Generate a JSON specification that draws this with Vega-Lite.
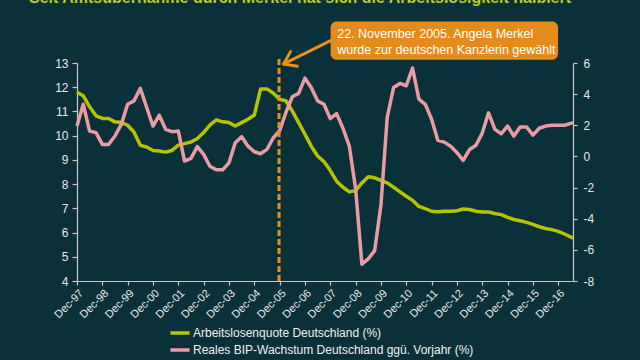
{
  "$schema": "https://vega.github.io/schema/vega-lite/v6.json",
  "width": 496,
  "height": 218,
  "autosize": {"type": "none"},
  "padding": {"left": 77, "top": 63, "right": 67, "bottom": 79},
  "background": "#0a313a",
  "title": {
    "text": "Seit Amtsübernahme durch Merkel hat sich die Arbeitslosigkeit halbiert",
    "anchor": "start", "frame": "group", "dx": -48, "offset": 3,
    "fontSize": 16, "fontWeight": "bold", "color": "#bccb1e",
    "font": "Liberation Sans", "baseline": "alphabetic"
  },
  "config": {
    "view": {"stroke": null},
    "axis": {
      "grid": false, "domainColor": "#c8c8c8", "tickColor": "#c8c8c8",
      "labelColor": "#e8e8e8", "labelFont": "Liberation Sans", "labelFontSize": 12,
      "domainWidth": 1.2, "tickWidth": 1.2, "tickSize": 5, "title": null
    },
    "legend": {
      "orient": "none", "legendX": 93, "legendY": 260, "direction": "vertical",
      "symbolType": "M-1.2,0H1.2", "symbolStrokeWidth": 3.5, "symbolSize": 256,
      "labelFont": "Liberation Sans", "labelFontSize": 12, "labelColor": "#f0f0f0",
      "labelLimit": 500, "labelOffset": 3, "rowPadding": 0, "title": null
    }
  },
  "datasets": {
    "s": [
      {"d": "1997/12/01", "a": 11.79, "b": 1.95},
      {"d": "1998/03/01", "a": 11.65, "b": 3.35},
      {"d": "1998/06/01", "a": 11.19, "b": 1.63},
      {"d": "1998/09/01", "a": 10.82, "b": 1.53},
      {"d": "1998/12/01", "a": 10.71, "b": 0.77},
      {"d": "1999/03/01", "a": 10.71, "b": 0.77},
      {"d": "1999/06/01", "a": 10.57, "b": 1.31},
      {"d": "1999/09/01", "a": 10.54, "b": 2.06},
      {"d": "1999/12/01", "a": 10.43, "b": 3.35},
      {"d": "2000/03/01", "a": 10.15, "b": 3.57},
      {"d": "2000/06/01", "a": 9.60, "b": 4.37},
      {"d": "2000/09/01", "a": 9.53, "b": 3.14},
      {"d": "2000/12/01", "a": 9.39, "b": 1.95},
      {"d": "2001/03/01", "a": 9.37, "b": 2.65},
      {"d": "2001/06/01", "a": 9.32, "b": 1.74},
      {"d": "2001/09/01", "a": 9.39, "b": 1.59},
      {"d": "2001/12/01", "a": 9.61, "b": 1.63},
      {"d": "2002/03/01", "a": 9.67, "b": -0.30},
      {"d": "2002/06/01", "a": 9.74, "b": -0.13},
      {"d": "2002/09/01", "a": 9.88, "b": 0.63},
      {"d": "2002/12/01", "a": 10.13, "b": 0.13},
      {"d": "2003/03/01", "a": 10.44, "b": -0.63},
      {"d": "2003/06/01", "a": 10.65, "b": -0.86},
      {"d": "2003/09/01", "a": 10.57, "b": -0.86},
      {"d": "2003/12/01", "a": 10.54, "b": -0.41},
      {"d": "2004/03/01", "a": 10.40, "b": 0.88},
      {"d": "2004/06/01", "a": 10.54, "b": 1.27},
      {"d": "2004/09/01", "a": 10.68, "b": 0.66},
      {"d": "2004/12/01", "a": 10.85, "b": 0.30},
      {"d": "2005/03/01", "a": 11.93, "b": 0.17},
      {"d": "2005/06/01", "a": 11.93, "b": 0.45},
      {"d": "2005/09/01", "a": 11.75, "b": 1.20},
      {"d": "2005/12/01", "a": 11.50, "b": 1.65},
      {"d": "2006/03/01", "a": 11.44, "b": 2.82},
      {"d": "2006/06/01", "a": 11.02, "b": 3.83},
      {"d": "2006/09/01", "a": 10.54, "b": 4.05},
      {"d": "2006/12/01", "a": 10.06, "b": 5.03},
      {"d": "2007/03/01", "a": 9.57, "b": 4.43},
      {"d": "2007/06/01", "a": 9.16, "b": 3.57},
      {"d": "2007/09/01", "a": 8.93, "b": 3.35},
      {"d": "2007/12/01", "a": 8.56, "b": 2.43},
      {"d": "2008/03/01", "a": 8.12, "b": 2.75},
      {"d": "2008/06/01", "a": 7.87, "b": 1.81},
      {"d": "2008/09/01", "a": 7.68, "b": 0.66},
      {"d": "2008/12/01", "a": 7.73, "b": -2.10},
      {"d": "2009/03/01", "a": 8.05, "b": -6.92},
      {"d": "2009/06/01", "a": 8.30, "b": -6.58},
      {"d": "2009/09/01", "a": 8.26, "b": -6.05},
      {"d": "2009/12/01", "a": 8.15, "b": -3.10},
      {"d": "2010/03/01", "a": 8.05, "b": 2.50},
      {"d": "2010/06/01", "a": 7.87, "b": 4.43},
      {"d": "2010/09/01", "a": 7.68, "b": 4.69},
      {"d": "2010/12/01", "a": 7.50, "b": 4.54},
      {"d": "2011/03/01", "a": 7.33, "b": 5.68},
      {"d": "2011/06/01", "a": 7.08, "b": 3.68},
      {"d": "2011/09/01", "a": 6.99, "b": 3.35},
      {"d": "2011/12/01", "a": 6.88, "b": 2.39},
      {"d": "2012/03/01", "a": 6.86, "b": 1.03},
      {"d": "2012/06/01", "a": 6.88, "b": 0.92},
      {"d": "2012/09/01", "a": 6.88, "b": 0.66},
      {"d": "2012/12/01", "a": 6.90, "b": 0.24},
      {"d": "2013/03/01", "a": 6.97, "b": -0.26},
      {"d": "2013/06/01", "a": 6.95, "b": 0.45},
      {"d": "2013/09/01", "a": 6.88, "b": 0.72},
      {"d": "2013/12/01", "a": 6.85, "b": 1.50},
      {"d": "2014/03/01", "a": 6.85, "b": 2.80},
      {"d": "2014/06/01", "a": 6.79, "b": 1.74},
      {"d": "2014/09/01", "a": 6.74, "b": 1.46},
      {"d": "2014/12/01", "a": 6.63, "b": 1.95},
      {"d": "2015/03/01", "a": 6.54, "b": 1.31},
      {"d": "2015/06/01", "a": 6.49, "b": 1.89},
      {"d": "2015/09/01", "a": 6.42, "b": 1.89},
      {"d": "2015/12/01", "a": 6.34, "b": 1.37},
      {"d": "2016/03/01", "a": 6.24, "b": 1.81},
      {"d": "2016/06/01", "a": 6.17, "b": 1.95},
      {"d": "2016/09/01", "a": 6.12, "b": 2.00},
      {"d": "2016/12/01", "a": 6.05, "b": 2.00},
      {"d": "2017/03/01", "a": 5.94, "b": 2.00},
      {"d": "2017/07/01", "a": 5.77, "b": 2.17}
    ],
    "vline": [{"d": "2005/11/22", "v": 4, "v2": 13.17}],
    "box": [{"d": "2007/12/06", "d2": "2016/11/28", "v": 14.71, "v2": 13.13}],
    "arrow": [
      {"d": "2007/12/06", "d2": "2006/01/28", "v": 13.92, "v2": 12.96},
      {"d": "2006/01/28", "d2": "2006/05/07", "v": 12.96, "v2": 13.47},
      {"d": "2006/01/28", "d2": "2006/08/13", "v": 12.96, "v2": 12.87}
    ],
    "note": [
      {"d": "2008/03/10", "v": 14.03, "t": "22. November 2005. Angela Merkel"},
      {"d": "2008/03/10", "v": 13.38, "t": "wurde zur deutschen Kanzlerin gewählt"}
    ]
  },
  "encoding": {
    "x": {
      "field": "d", "type": "temporal",
      "scale": {"domain": [{"year": 1997, "month": 12, "date": 1}, {"year": 2017, "month": 7, "date": 1}]},
      "axis": {
        "values": [
          {"year": 1997, "month": 12, "date": 1}, {"year": 1998, "month": 12, "date": 1},
          {"year": 1999, "month": 12, "date": 1}, {"year": 2000, "month": 12, "date": 1},
          {"year": 2001, "month": 12, "date": 1}, {"year": 2002, "month": 12, "date": 1},
          {"year": 2003, "month": 12, "date": 1}, {"year": 2004, "month": 12, "date": 1},
          {"year": 2005, "month": 12, "date": 1}, {"year": 2006, "month": 12, "date": 1},
          {"year": 2007, "month": 12, "date": 1}, {"year": 2008, "month": 12, "date": 1},
          {"year": 2009, "month": 12, "date": 1}, {"year": 2010, "month": 12, "date": 1},
          {"year": 2011, "month": 12, "date": 1}, {"year": 2012, "month": 12, "date": 1},
          {"year": 2013, "month": 12, "date": 1}, {"year": 2014, "month": 12, "date": 1},
          {"year": 2015, "month": 12, "date": 1}, {"year": 2016, "month": 12, "date": 1}
        ],
        "format": "%b-%y", "labelAngle": -45, "labelFontSize": 11, "tickSize": 4,
        "labelPadding": 2, "labelOverlap": false, "labelBound": false, "labelFlush": false
      }
    }
  },
  "layer": [
    {
      "data": {"name": "s"},
      "mark": {"type": "line", "strokeWidth": 3.5, "strokeJoin": "round"},
      "encoding": {
        "y": {"field": "a", "type": "quantitative",
              "scale": {"domain": [4, 13], "nice": false, "zero": false},
              "axis": {"orient": "left", "values": [4, 5, 6, 7, 8, 9, 10, 11, 12, 13], "labelPadding": 4}},
        "color": {"datum": "Arbeitslosenquote Deutschland (%)", "type": "nominal",
                  "scale": {"domain": ["Arbeitslosenquote Deutschland (%)", "Reales BIP-Wachstum Deutschland ggü. Vorjahr (%)"],
                            "range": ["#b4c400", "#ea9ba3"]}}
      }
    },
    {
      "data": {"name": "s"},
      "mark": {"type": "line", "strokeWidth": 3.5, "strokeJoin": "round"},
      "encoding": {
        "y": {"field": "b", "type": "quantitative",
              "scale": {"domain": [-8, 6], "nice": false, "zero": false},
              "axis": {"orient": "right", "values": [-8, -6, -4, -2, 0, 2, 4, 6], "tickSize": 4, "labelPadding": 6,
                       "labelExpr": "datum.value < 0 ? '-' + abs(datum.value) : '' + datum.value"}},
        "color": {"datum": "Reales BIP-Wachstum Deutschland ggü. Vorjahr (%)", "type": "nominal"}
      }
    },
    {
      "layer": [
        {
          "data": {"name": "vline"},
          "mark": {"type": "rule", "color": "#e8901c", "strokeWidth": 3, "strokeDash": [6, 3]},
          "encoding": {
            "y": {"field": "v", "type": "quantitative", "scale": {"domain": [4, 13], "nice": false, "zero": false}, "axis": null},
            "y2": {"field": "v2"}
          }
        },
        {
          "data": {"name": "box"},
          "mark": {"type": "rect", "color": "#e58b1a", "cornerRadius": 6},
          "encoding": {
            "x2": {"field": "d2"},
            "y": {"field": "v", "type": "quantitative", "scale": {"domain": [4, 13], "nice": false, "zero": false}, "axis": null},
            "y2": {"field": "v2"}
          }
        },
        {
          "data": {"name": "arrow"},
          "mark": {"type": "rule", "color": "#e8901c", "strokeWidth": 3, "strokeCap": "round"},
          "encoding": {
            "x2": {"field": "d2"},
            "y": {"field": "v", "type": "quantitative", "scale": {"domain": [4, 13], "nice": false, "zero": false}, "axis": null},
            "y2": {"field": "v2"}
          }
        },
        {
          "data": {"name": "note"},
          "mark": {"type": "text", "align": "left", "baseline": "alphabetic", "color": "#ffffff", "fontSize": 12.5, "font": "Liberation Sans"},
          "encoding": {
            "y": {"field": "v", "type": "quantitative", "scale": {"domain": [4, 13], "nice": false, "zero": false}, "axis": null},
            "text": {"field": "t"}
          }
        }
      ]
    }
  ],
  "resolve": {"scale": {"y": "independent"}}
}
